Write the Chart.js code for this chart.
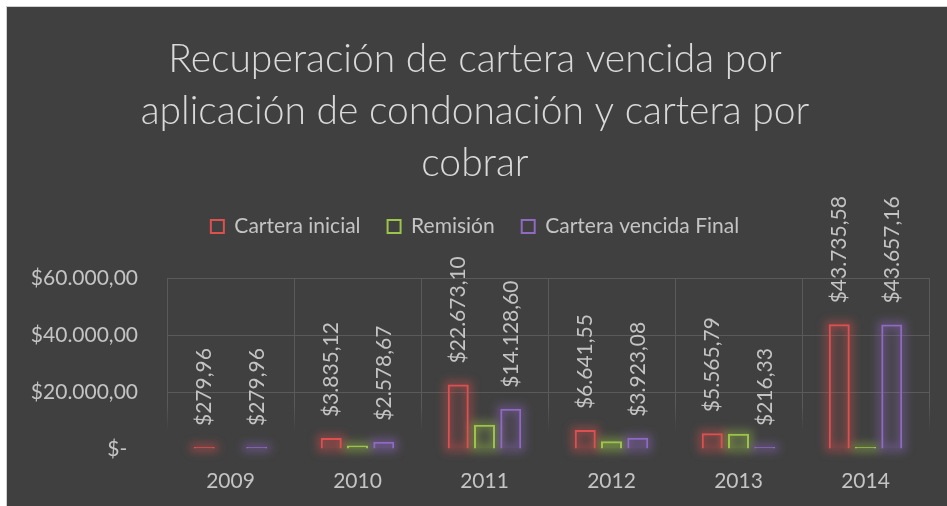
<!DOCTYPE html>
<html><head><meta charset="utf-8">
<script src="https://cdn.jsdelivr.net/npm/chart.js@4/dist/chart.umd.min.js"></script>
<style>
html,body{margin:0;padding:0;background:#fff;width:947px;height:506px;overflow:hidden}
#wrap{position:absolute;left:6px;top:6px;width:941px;height:500px;border-left:1px solid #d0d0d0;border-top:1px solid #d0d0d0;background:#404040}
canvas{display:block}
</style></head><body>
<div id="wrap"><canvas id="c" width="940" height="499"></canvas></div>
<script>
const categories = ['2009', '2010', '2011', '2012', '2013', '2014'];
const carteraInicial = [279.96, 3835.12, 22673.10, 6641.55, 5565.79, 43735.58];
const remision = [0, 1256.45, 8544.50, 2718.47, 5349.46, 78.42];
const carteraFinal = [279.96, 2578.67, 14128.60, 3923.08, 216.33, 43657.16];
const seriesNames = ['Cartera inicial', 'Remisión', 'Cartera vencida Final'];
const seriesColors = ['#dc5050', '#9cc34a', '#8f69c2'];
const yTicks = [0, 20000, 40000, 60000];
const titleLines = ['Recuperación de cartera vencida por', 'aplicación de condonación y cartera por', 'cobrar'];

function fmt(v) {
  const parts = v.toFixed(2).split('.');
  const int = parts[0].replace(/\B(?=(\d{3})+(?!\d))/g, '.');
  return '$' + int + ',' + parts[1];
}
function rgba(hex, a) {
  const n = parseInt(hex.slice(1), 16);
  return 'rgba(' + (n >> 16) + ',' + ((n >> 8) & 255) + ',' + (n & 255) + ',' + a + ')';
}

const FONT = 'Lato';
const FS = 21;
const TXT = '#c4c4c4';
const GRID = '#5a5a5a';

const glowPlugin = {
  id: 'glow',
  beforeDatasetsDraw(chart) {
    const ctx = chart.ctx;
    chart.data.datasets.forEach((ds, i) => {
      const meta = chart.getDatasetMeta(i);
      meta.data.forEach((el, j) => {
        if (ds.data[j] === null) return;
        const top = Math.min(el.y, el.base), h = Math.abs(el.base - el.y);
        const left = el.x - el.width / 2;
        ctx.save();
        ctx.filter = 'blur(4px)';
        ctx.strokeStyle = rgba(seriesColors[i], 0.45);
        ctx.lineWidth = 7;
        ctx.strokeRect(left, top, el.width, h);
        ctx.restore();
      });
    });
  }
};

const labelPlugin = {
  id: 'barLabels',
  afterDatasetsDraw(chart) {
    const ctx = chart.ctx;
    [0, 2].forEach(i => {
      const meta = chart.getDatasetMeta(i);
      const ds = chart.data.datasets[i];
      meta.data.forEach((el, j) => {
        ctx.save();
        ctx.translate(el.x, Math.min(el.y, el.base) - 21);
        ctx.rotate(-Math.PI / 2);
        ctx.font = FS + 'px ' + FONT;
        ctx.fillStyle = TXT;
        ctx.textAlign = 'left';
        ctx.textBaseline = 'middle';
        ctx.fillText(fmt(ds.data[j]), 0, 0);
        ctx.restore();
      });
    });
  }
};

const makeDs = (label, data, color) => ({
  label, data,
  backgroundColor: rgba(color, 0.1),
  borderColor: color,
  borderWidth: 2,
  minBarLength: 2,
  barPercentage: 0.8,
  categoryPercentage: 0.62
});

function fadingGrid(c) {
  const ca = c.chart.chartArea;
  if (!ca) return GRID;
  const g = c.chart.ctx.createLinearGradient(0, ca.top, 0, ca.bottom);
  g.addColorStop(0, GRID);
  g.addColorStop(0.74, GRID);
  g.addColorStop(0.9, 'rgba(90,90,90,0)');
  g.addColorStop(1, 'rgba(90,90,90,0)');
  return g;
}

new Chart(document.getElementById('c'), {
  type: 'bar',
  data: {
    labels: categories,
    datasets: [
      makeDs(seriesNames[0], carteraInicial, seriesColors[0]),
      makeDs(seriesNames[1], remision.map(v => v === 0 ? null : v), seriesColors[1]),
      makeDs(seriesNames[2], carteraFinal, seriesColors[2])
    ]
  },
  options: {
    responsive: false,
    animation: false,
    devicePixelRatio: 1,
    layout: { padding: { top: 26, right: 18, bottom: 0, left: 14 } },
    plugins: {
      tooltip: { enabled: false },
      title: {
        display: true,
        text: titleLines,
        color: '#d9d9d9',
        font: { family: FONT, size: 39, weight: '300', lineHeight: '52px' },
        padding: { top: 0, bottom: 0 }
      },
      legend: {
        display: true,
        labels: {
          color: TXT,
          font: { family: FONT, size: FS },
          boxWidth: 13,
          boxHeight: 13,
          padding: 27,
          generateLabels(chart) {
            return chart.data.datasets.map((ds, i) => ({
              text: ds.label,
              fillStyle: 'rgba(0,0,0,0)',
              strokeStyle: seriesColors[i],
              lineWidth: 2,
              fontColor: TXT,
              hidden: false,
              datasetIndex: i
            }));
          }
        }
      },
      subtitle: {
        display: true,
        text: '',
        weight: 500,
        font: { size: 1, lineHeight: 1 },
        padding: { top: 30, bottom: 0 }
      }
    },
    scales: {
      x: {
        grid: { offset: true, color: fadingGrid, drawTicks: false },
        border: { display: false },
        ticks: { color: TXT, font: { family: FONT, size: FS }, padding: 20 },
        afterFit(s) { s.height = 57; }
      },
      y: {
        min: 0, max: 60000,
        grid: { color: ctx => ctx.tick && ctx.tick.value === 0 ? 'rgba(0,0,0,0)' : GRID, drawTicks: false },
        border: { display: false },
        ticks: {
          color: TXT, font: { family: FONT, size: FS }, padding: 29,
          callback: v => v === 0 ? '$-  ' : fmt(v)
        },
        afterBuildTicks(s) { s.ticks = yTicks.map(v => ({ value: v })); },
        afterFit(s) { s.width = 146; }
      }
    }
  },
  plugins: [glowPlugin, labelPlugin]
});
</script>
</body></html>
